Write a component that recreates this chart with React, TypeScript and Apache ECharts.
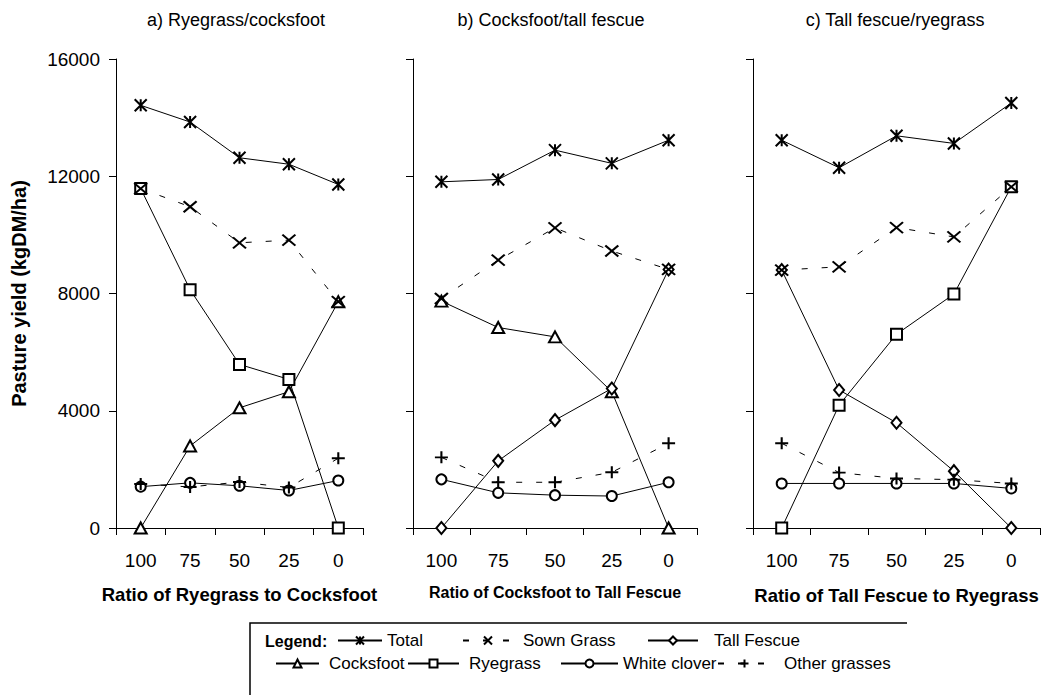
import React, { useEffect, useRef } from "react";
import * as echarts from "echarts";

const categories = ["100", "75", "50", "25", "0"];

// a) Ryegrass / cocksfoot
const aTotal = [14420, 13850, 12630, 12410, 11720];
const aSown = [11580, 10960, 9730, 9820, 7720];
const aCocksfoot = [0, 2800, 4100, 4650, 7720];
const aRyegrass = [11580, 8130, 5580, 5070, 0];
const aClover = [1410, 1540, 1440, 1280, 1620];
const aOther = [1500, 1400, 1570, 1380, 2380];

// b) Cocksfoot / tall fescue
const bTotal = [11810, 11890, 12890, 12440, 13230];
const bSown = [7830, 9140, 10240, 9450, 8820];
const bCocksfoot = [7740, 6840, 6520, 4650, 0];
const bTall = [0, 2290, 3680, 4760, 8820];
const bClover = [1660, 1200, 1120, 1090, 1560];
const bOther = [2410, 1560, 1560, 1900, 2890];

// c) Tall fescue / ryegrass
const cTotal = [13230, 12290, 13380, 13120, 14500];
const cSown = [8800, 8910, 10250, 9930, 11640];
const cTall = [8800, 4710, 3590, 1940, 0];
const cRyegrass = [0, 4190, 6610, 7980, 11640];
const cClover = [1520, 1520, 1520, 1520, 1350];
const cOther = [2890, 1890, 1690, 1650, 1520];

const panelTitles = ["a) Ryegrass/cocksfoot", "b) Cocksfoot/tall fescue", "c) Tall fescue/ryegrass"];
const axisTitles = ["Ratio of Ryegrass to Cocksfoot", "Ratio of Cocksfoot to Tall Fescue", "Ratio of Tall Fescue to Ryegrass"];
const yTitle = "Pasture yield (kgDM/ha)";

const FONT = "'Liberation Sans', Arial, sans-serif";
const ASTERISK = "path://M0,0L10,12M10,0L0,12M5,0L5,12";
const XMARK = "path://M0,0L12,10M12,0L0,10";
const PLUS = "path://M6,0L6,12M0,6L12,6";

const styles: Record<string, any> = {
  Total: { symbol: ASTERISK, symbolSize: [12, 12], dashed: false },
  "Sown Grass": { symbol: XMARK, symbolSize: [13, 11], dashed: true },
  "Tall Fescue": { symbol: "emptyDiamond", symbolSize: [10, 12], dashed: false },
  Cocksfoot: { symbol: "emptyTriangle", symbolSize: [12, 11], dashed: false },
  Ryegrass: { symbol: "emptyRect", symbolSize: 11, dashed: false },
  "White clover": { symbol: "emptyCircle", symbolSize: 10, dashed: false },
  "Other grasses": { symbol: PLUS, symbolSize: [13, 12], dashed: true },
};

const panels: { name: string; data: number[] }[][] = [
  [
    { name: "Ryegrass", data: aRyegrass },
    { name: "Cocksfoot", data: aCocksfoot },
    { name: "White clover", data: aClover },
    { name: "Other grasses", data: aOther },
    { name: "Sown Grass", data: aSown },
    { name: "Total", data: aTotal },
  ],
  [
    { name: "Cocksfoot", data: bCocksfoot },
    { name: "Tall Fescue", data: bTall },
    { name: "White clover", data: bClover },
    { name: "Other grasses", data: bOther },
    { name: "Sown Grass", data: bSown },
    { name: "Total", data: bTotal },
  ],
  [
    { name: "Ryegrass", data: cRyegrass },
    { name: "Tall Fescue", data: cTall },
    { name: "White clover", data: cClover },
    { name: "Other grasses", data: cOther },
    { name: "Sown Grass", data: cSown },
    { name: "Total", data: cTotal },
  ],
];

export default function App() {
  const ref = useRef<HTMLDivElement>(null);
  useEffect(() => {
    if (!ref.current) return;
    const chart = echarts.init(ref.current, null, { renderer: "svg" });

    const grids = [
      { left: 116, top: 59, width: 247, height: 469 },
      { left: 413, top: 59, width: 284, height: 469 },
      { left: 753, top: 59, width: 287, height: 469 },
    ].map((g) => ({ ...g, outerBoundsMode: "none", containLabel: false }));

    const nameSizes = [18.5, 16, 18.5];
    const nameGaps = [57, 56, 58];
    const titleX = [236, 551, 895];

    const xAxes = [0, 1, 2].map((i) => ({
      type: "category",
      gridIndex: i,
      data: categories,
      boundaryGap: true,
      axisLine: { show: true, lineStyle: { color: "#000", width: 1 } },
      axisTick: { show: true, length: 7, alignWithLabel: false, lineStyle: { color: "#000", width: 1 } },
      axisLabel: { fontSize: 19, color: "#000", margin: 23, fontFamily: FONT },
      splitLine: { show: false },
      name: axisTitles[i],
      nameLocation: "middle",
      nameGap: nameGaps[i],
      nameTextStyle: { fontSize: nameSizes[i], fontWeight: "bold", color: "#000", fontFamily: FONT },
    }));

    const yAxes = [0, 1, 2].map((i) => ({
      type: "value",
      gridIndex: i,
      min: 0,
      max: 16000,
      interval: 4000,
      axisLine: { show: true, lineStyle: { color: "#000", width: 1 } },
      axisTick: { show: true, length: 7, lineStyle: { color: "#000", width: 1 } },
      axisLabel: {
        show: i === 0,
        fontSize: 19,
        color: "#000",
        margin: 16,
        fontFamily: FONT,
        formatter: (v: number) => String(v),
      },
      splitLine: { show: false },
      name: i === 0 ? yTitle : "",
      nameLocation: "middle",
      nameGap: 87,
      nameRotate: 90,
      nameTextStyle: { fontSize: 20, fontWeight: "bold", color: "#000", fontFamily: FONT },
    }));

    const series: any[] = [];
    panels.forEach((list, i) => {
      list.forEach((s) => {
        const st = styles[s.name];
        series.push({
          type: "line",
          name: s.name,
          xAxisIndex: i,
          yAxisIndex: i,
          data: s.data,
          symbol: st.symbol,
          symbolSize: st.symbolSize,
          showAllSymbol: true,
          lineStyle: { color: "#000", width: 1, type: st.dashed ? [6, 14] : "solid" },
          itemStyle: { color: "#000", borderColor: "#000", borderWidth: 2 },
          emphasis: { disabled: true },
          z: 2,
        });
      });
    });

    const legendItems = [
      { name: "Total", left: 337, top: 632, w: 44, pad: 0 },
      { name: "Sown Grass", left: 462, top: 632, w: 50, pad: 5 },
      { name: "Tall Fescue", left: 647, top: 632, w: 50, pad: 11 },
      { name: "Cocksfoot", left: 275, top: 655, w: 43, pad: 5 },
      { name: "Ryegrass", left: 407, top: 655, w: 51, pad: 5 },
      { name: "White clover", left: 560, top: 655, w: 57, pad: 0 },
      { name: "Other grasses", left: 717, top: 655, w: 53, pad: 8 },
    ];

    const legends = legendItems.map((l) => ({
      show: true,
      data: [l.name],
      left: l.left,
      top: l.top,
      padding: 0,
      itemWidth: l.w,
      itemHeight: 10,
      selectedMode: false,
      textStyle: { fontSize: 17, color: "#000", fontFamily: FONT, padding: [0, 0, 0, l.pad] },
    }));

    const graphic: any[] = [
      ...panelTitles.map((t, i) => ({
        type: "text",
        x: titleX[i],
        y: 20,
        style: { text: t, fontSize: 18, fontFamily: FONT, fill: "#000", textAlign: "center", textVerticalAlign: "middle" },
      })),
      {
        type: "polyline",
        shape: { points: [[250, 700], [250, 623], [907, 623]] },
        style: { stroke: "#000", lineWidth: 1.5, fill: "none" },
      },
      {
        type: "text",
        x: 265,
        y: 641,
        style: { text: "Legend:", fontSize: 16, fontWeight: "bold", fontFamily: FONT, fill: "#000", textVerticalAlign: "middle" },
      },
    ];

    chart.setOption({
      animation: false,
      backgroundColor: "#fff",
      grid: grids,
      xAxis: xAxes,
      yAxis: yAxes,
      series,
      legend: legends,
      graphic,
    });

    return () => chart.dispose();
  }, []);

  return <div ref={ref} style={{ position: "fixed", left: 0, top: 0, width: 1046, height: 695 }} />;
}
